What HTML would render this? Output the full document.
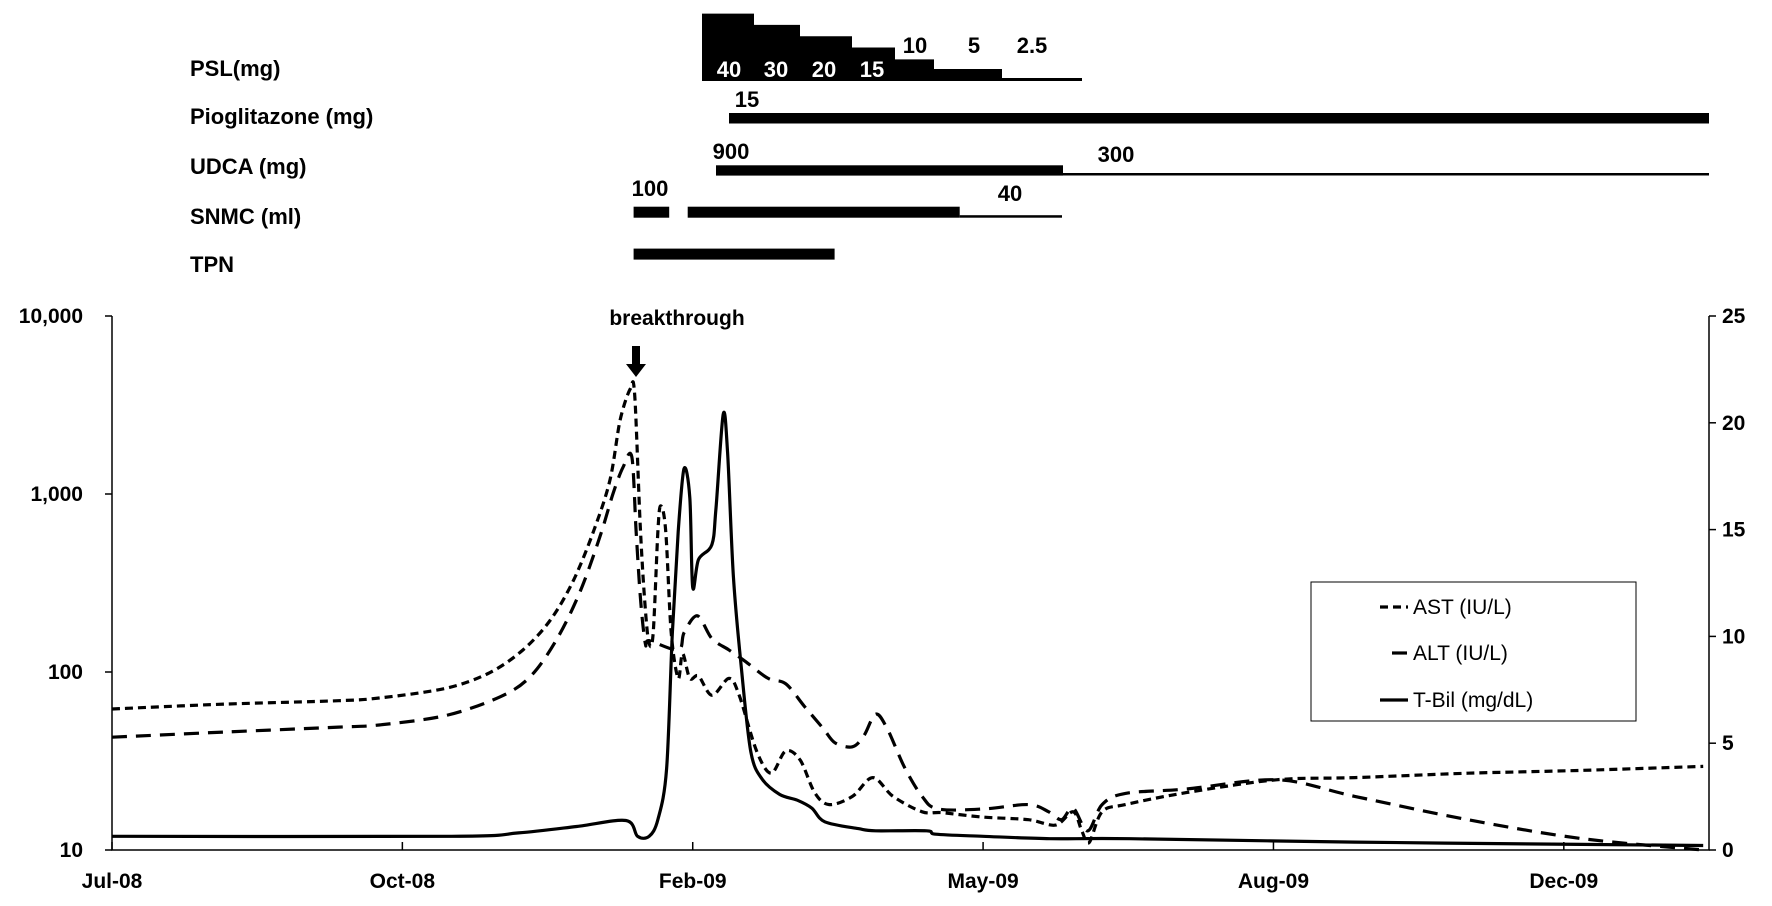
<!DOCTYPE html>
<html><head><meta charset="utf-8"><style>
html,body{margin:0;padding:0;background:#fff;}
svg{display:block;font-family:"Liberation Sans",sans-serif;}
</style></head><body>
<svg id="c" width="1772" height="906" viewBox="0 0 1772 906">
<g id="treat" font-weight="bold" font-size="22">
 <text x="190" y="76">PSL(mg)</text>
 <text x="190" y="124">Pioglitazone (mg)</text>
 <text x="190" y="174">UDCA (mg)</text>
 <text x="190" y="224">SNMC (ml)</text>
 <text x="190" y="272">TPN</text>
 <path d="M702 81 V13.6 H754 V24.9 H800 V36.2 H852 V47.5 H895 V59.4 H934 V69 H1002 V81 Z" fill="#000"/>
 <rect x="1002" y="78" width="80" height="3" fill="#000"/>
 <g fill="#fff" text-anchor="middle" font-size="22"><text x="729" y="77">40</text><text x="776" y="77">30</text><text x="824" y="77">20</text><text x="872" y="77">15</text></g>
 <g fill="#000" text-anchor="middle" font-size="22"><text x="915" y="53">10</text><text x="974" y="53">5</text><text x="1032" y="53">2.5</text></g>
 <rect x="729" y="113" width="980" height="10.5" fill="#000"/>
 <text x="747" y="107" text-anchor="middle">15</text>
 <rect x="716" y="165.3" width="347" height="10.3" fill="#000"/>
 <rect x="1063" y="173" width="646" height="2.5" fill="#000"/>
 <text x="731" y="159" text-anchor="middle">900</text>
 <text x="1116" y="162" text-anchor="middle">300</text>
 <rect x="633.6" y="206.7" width="35.6" height="11" fill="#000"/>
 <rect x="687.7" y="206.7" width="272" height="11" fill="#000"/>
 <rect x="959.7" y="215.2" width="102.3" height="2.5" fill="#000"/>
 <text x="650" y="196" text-anchor="middle">100</text>
 <text x="1010" y="201" text-anchor="middle">40</text>
 <rect x="633.6" y="248.6" width="201" height="11" fill="#000"/>
</g>
<g id="plot"></g>
</svg>
<script>
const xTickLabels=["Jul-08","Oct-08","Feb-09","May-09","Aug-09","Dec-09"];
const xTickDays=[0,100,200,300,400,500];
const leftTicks=[10,100,1000,10000];
const leftTickLabels=["10","100","1,000","10,000"];
const rightTicks=[0,5,10,15,20,25];
const astDays=[0,39,78,92,115,130,141.5,151,159,166,171.5,175,178.5,180,182,183.7,185,186.4,188,189,190.7,192.6,195,196.5,199,202,206.6,212.5,216,222,227,232,237,242,247,255,262,269,279,286,300,315.6,325,331,334,336.5,341,349,370,401,428,467,506,548];
const astVals=[62,66,69,71.4,81,99,133,196,329,628,1200,2600,3900,3600,620,223,144,166,620,857,620,166,92,127,92,95,74,92,74,36,27,36,32,21,18,20,25.5,20,16.4,16.2,15.3,14.8,13.8,16.4,12.8,11,16.4,18,21,24.8,25.5,27,28,29.5];
const altDays=[0,39,78,92,115,133.6,144,153,161,168,172.5,176,179,180.5,182,183.7,185,195,197,201.6,206.6,212.5,218,226,232,238.5,245,249,255,259,263,267,273,279,284.5,300,315.6,322.6,327,331,336,341,349,370,401.5,428,467,506,548];
const altVals=[43,46,49,50.4,57,72.5,94,151,278,573,1000,1413,1620,620,258,144,150,133,166,207,154,133,115,92,86,64,48,40,38,44,58,48,29,20,17,17,18,16.4,14.8,17.2,12.8,18,20.8,22,24.8,20,14.8,11.6,10];
const tbilDays=[0,117,140,160,177,181,185,188,191,193,195,197,199,200,202,206.6,208,210.5,212,214,216.7,220,224,230,236,241,245.5,257,263,280.5,283.7,300,323,350.6,428,506,548];
const tbilVals=[0.64,0.64,0.8,1.1,1.38,0.64,0.64,1.43,3.8,10.2,14.9,17.85,16.5,12.3,13.6,14.3,16,20.4,18.6,12.8,8.6,4.6,3.3,2.6,2.33,1.96,1.32,1.0,0.9,0.9,0.74,0.64,0.53,0.53,0.37,0.26,0.21];

const L=112,R=1709,T=316,B=850,DMAX=550;
const NS="http://www.w3.org/2000/svg";
const g=document.getElementById('plot');
const xS=d=>L+(R-L)*d/DMAX;
const yL=v=>B-(B-T)*(Math.log10(v)-1)/3;
const yR=v=>B-(B-T)*v/25;
function mk(tag,attrs,parent){const e=document.createElementNS(NS,tag);for(const k in attrs)e.setAttribute(k,attrs[k]);(parent||g).appendChild(e);return e;}

let ax=mk('path',{d:`M${L} ${T} V${B} H${R} V${T}`,fill:'none',stroke:'#000','stroke-width':1.5});


xTickDays.forEach((d,i)=>{
 let t=mk('line',{x1:xS(d),x2:xS(d),y1:B,y2:B-8,stroke:'#000','stroke-width':1.5});
 
 
 let l=mk('text',{x:xS(d),y:888,'text-anchor':'middle','font-size':21,'font-weight':'bold'});
 l.textContent=xTickLabels[i];
 
 
});
leftTicks.forEach((v,i)=>{
 let t=mk('line',{x1:L-7,x2:L,y1:yL(v),y2:yL(v),stroke:'#000','stroke-width':1.5});
 
 
 let l=mk('text',{x:83,y:yL(v)+7,'text-anchor':'end','font-size':21,'font-weight':'bold'});
 l.textContent=leftTickLabels[i];
 
 
});
rightTicks.forEach(v=>{
 let t=mk('line',{x1:R,x2:R+7,y1:yR(v),y2:yR(v),stroke:'#000','stroke-width':1.5});
 
 
 let l=mk('text',{x:1722,y:yR(v)+7,'font-size':21,'font-weight':'bold'});
 l.textContent=String(v);
 
 
});
function smooth(P){
 let d='M'+P[0][0].toFixed(1)+' '+P[0][1].toFixed(1);
 for(let i=0;i<P.length-1;i++){
  const p0=P[i-1]||P[i],p1=P[i],p2=P[i+1],p3=P[i+2]||P[i+1];
  const k=0.16;
  const c1=[p1[0]+(p2[0]-p0[0])*k,p1[1]+(p2[1]-p0[1])*k];
  const c2=[p2[0]-(p3[0]-p1[0])*k,p2[1]-(p3[1]-p1[1])*k];
  d+=` C${c1[0].toFixed(1)} ${c1[1].toFixed(1)} ${c2[0].toFixed(1)} ${c2[1].toFixed(1)} ${p2[0].toFixed(1)} ${p2[1].toFixed(1)}`;
 }
 return d;
}
function line(days,vals,ys,dash,name){
 const P=days.map((x,i)=>[xS(x),ys(vals[i])]);
 let p=mk('path',{d:smooth(P),fill:'none',stroke:'#000','stroke-width':3.2,'stroke-dasharray':dash,'stroke-linejoin':'round'});
 
 
}
line(astDays,astVals,yL,'8 5','ast-line');
line(altDays,altVals,yL,'15 9','alt-line');
line(tbilDays,tbilVals,yR,'none','tbil-line');

let bt=mk('text',{x:677,y:325,'text-anchor':'middle','font-size':21,'font-weight':'bold'});
bt.textContent='breakthrough';


let ar=mk('path',{d:'M632 346 H640 V364 H646 L636 377 L626 364 H632 Z',fill:'#000'});



let lg=mk('g',{});


mk('rect',{x:1311,y:582,width:325,height:139,fill:'#fff',stroke:'#000','stroke-width':1},lg);
const lgNames=['AST (IU/L)','ALT (IU/L)','T-Bil (mg/dL)'];
const lgDash=['8 5','15 9','none'];
const lgX1=[1380,1392,1380];
[607,653,700].forEach((y,i)=>{
 let s=mk('line',{x1:lgX1[i],x2:1408,y1:y,y2:y,stroke:'#000','stroke-width':3.2,'stroke-dasharray':lgDash[i]},lg);
 
 
 let t=mk('text',{x:1413,y:y+7,'font-size':21},lg);
 t.textContent=lgNames[i];
 
 
});
</script>
</body></html>
